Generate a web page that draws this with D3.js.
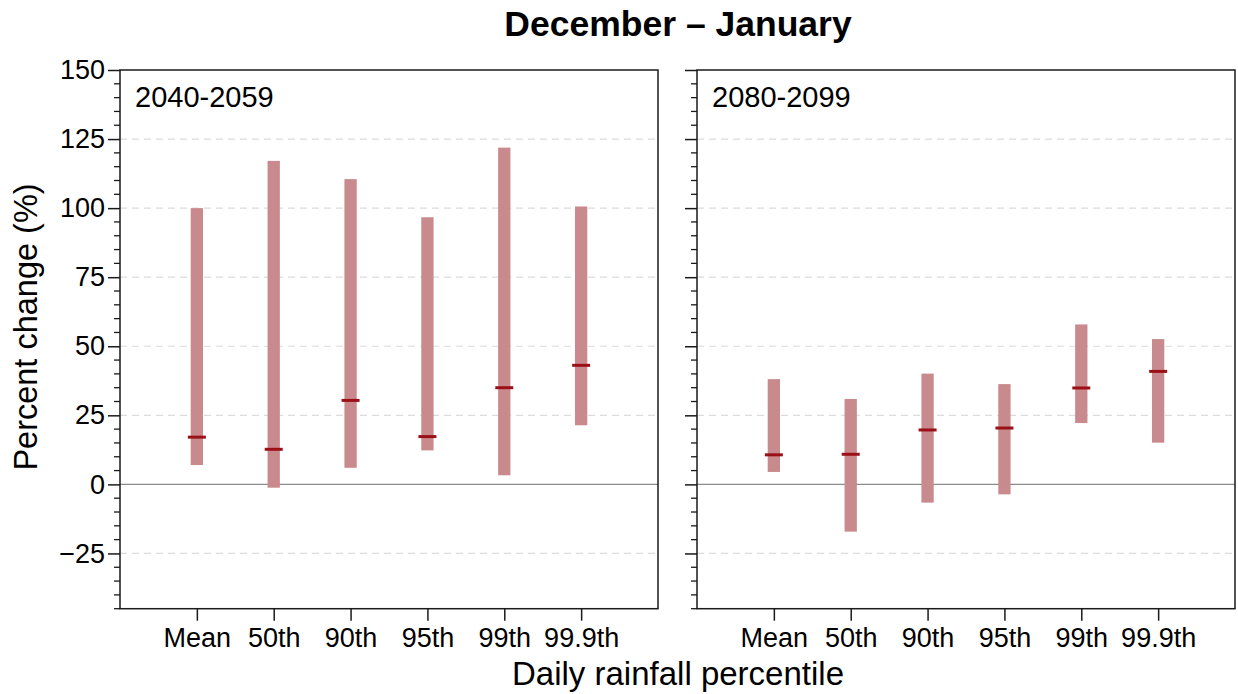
<!DOCTYPE html>
<html>
<head>
<meta charset="utf-8">
<script src="https://cdn.jsdelivr.net/npm/d3@7"></script>
<style>
  html, body { margin: 0; padding: 0; background: #fff; }
  svg { display: block; font-family: "Liberation Sans", Arial, Helvetica, sans-serif; }
</style>
</head>
<body>
<svg id="chart" width="1238" height="694"></svg>
<script>
// Projected change in daily rainfall statistics, December–January
const categories = ["Mean", "50th", "90th", "95th", "99th", "99.9th"];
const periods = ["2040-2059", "2080-2099"];

// Ensemble range (low/high) and median per statistic, in percent
const low2040 = [7.0, -1.2, 6.0, 12.3, 3.3, 21.4];
const high2040 = [100.0, 117.1, 110.5, 96.7, 121.9, 100.6];
const median2040 = [17.1, 12.7, 30.4, 17.3, 35.0, 43.1];

const low2080 = [4.5, -17.1, -6.6, -3.6, 22.2, 15.1];
const high2080 = [38.1, 30.9, 40.1, 36.3, 57.9, 52.6];
const median2080 = [10.7, 10.9, 19.7, 20.4, 34.9, 40.9];

const yTicks = [-25, 0, 25, 50, 75, 100, 125, 150];
const yDomain = [-45, 150];

const panels = [
  { label: periods[0], low: low2040, high: high2040, median: median2040, x0: 120, x1: 658, showLabels: true },
  { label: periods[1], low: low2080, high: high2080, median: median2080, x0: 697, x1: 1235, showLabels: false }
];

const plotTop = 70, plotBottom = 608.7;
const svg = d3.select("#chart");

const y = d3.scaleLinear().domain(yDomain).range([plotBottom, plotTop]);
const minorTicks = d3.range(yDomain[0], yDomain[1] + 0.1, 5).filter(v => !yTicks.includes(v));

const barColor = "#c98a8d";
const medianColor = "#9b0f17";

panels.forEach(p => {
  const g = svg.append("g");
  const x = d3.scalePoint().domain(categories).range([p.x0, p.x1]).padding(1);

  // dashed reference grid
  g.selectAll("line.grid")
    .data(yTicks.filter(v => v !== 0 && v !== yDomain[1]))
    .join("line")
    .attr("x1", p.x0).attr("x2", p.x1)
    .attr("y1", d => y(d)).attr("y2", d => y(d))
    .attr("stroke", "#dcdcdc").attr("stroke-width", 1.2)
    .attr("stroke-dasharray", "7,5");

  // zero line
  g.append("line")
    .attr("x1", p.x0).attr("x2", p.x1)
    .attr("y1", y(0)).attr("y2", y(0))
    .attr("stroke", "#8c8c8c").attr("stroke-width", 1.4);

  // range bars
  const bw = 12.3;
  g.selectAll("rect.range")
    .data(categories)
    .join("rect")
    .attr("x", d => x(d) - bw / 2)
    .attr("width", bw)
    .attr("y", (d, i) => y(p.high[i]))
    .attr("height", (d, i) => y(p.low[i]) - y(p.high[i]))
    .attr("fill", barColor);

  // medians
  g.selectAll("line.median")
    .data(categories)
    .join("line")
    .attr("x1", d => x(d) - 9).attr("x2", d => x(d) + 9)
    .attr("y1", (d, i) => y(p.median[i])).attr("y2", (d, i) => y(p.median[i]))
    .attr("stroke", medianColor).attr("stroke-width", 3);

  // frame
  g.append("rect")
    .attr("x", p.x0).attr("y", plotTop)
    .attr("width", p.x1 - p.x0).attr("height", plotBottom - plotTop)
    .attr("fill", "none").attr("stroke", "#1a1a1a").attr("stroke-width", 1.5);

  // y axis: major and minor ticks
  const yAxis = d3.axisLeft(y).tickValues(yTicks).tickSizeOuter(0).tickSizeInner(12).tickPadding(3)
    .tickFormat(p.showLabels ? d3.format("d") : () => "");
  const ya = g.append("g").attr("transform", `translate(${p.x0},0)`).call(yAxis);
  ya.select(".domain").remove();
  ya.selectAll(".tick line").attr("stroke", "#1a1a1a").attr("stroke-width", 1.5);
  ya.selectAll(".tick text").attr("font-size", 27).attr("fill", "#000");

  g.append("g").selectAll("line")
    .data(minorTicks)
    .join("line")
    .attr("x1", p.x0 - 6).attr("x2", p.x0)
    .attr("y1", d => y(d)).attr("y2", d => y(d))
    .attr("stroke", "#1a1a1a").attr("stroke-width", 1.3);

  // x axis
  const xAxis = d3.axisBottom(x).tickSizeOuter(0).tickSizeInner(12).tickPadding(7);
  const xa = g.append("g").attr("transform", `translate(0,${plotBottom})`).call(xAxis);
  xa.select(".domain").remove();
  xa.selectAll(".tick line").attr("stroke", "#1a1a1a").attr("stroke-width", 1.5);
  xa.selectAll(".tick text").attr("font-size", 27).attr("fill", "#000");

  // period label
  g.append("text")
    .attr("x", p.x0 + 15).attr("y", 107)
    .attr("font-size", 29).attr("fill", "#000")
    .text(p.label);
});

// titles
svg.append("text")
  .attr("x", 678).attr("y", 36)
  .attr("text-anchor", "middle")
  .attr("font-size", 35.5).attr("font-weight", "bold")
  .text("December – January");

svg.append("text")
  .attr("x", 678).attr("y", 685)
  .attr("text-anchor", "middle")
  .attr("font-size", 33)
  .text("Daily rainfall percentile");

svg.append("text")
  .attr("transform", "translate(37,327) rotate(-90)")
  .attr("text-anchor", "middle")
  .attr("font-size", 32.5)
  .text("Percent change (%)");
</script>
</body>
</html>
